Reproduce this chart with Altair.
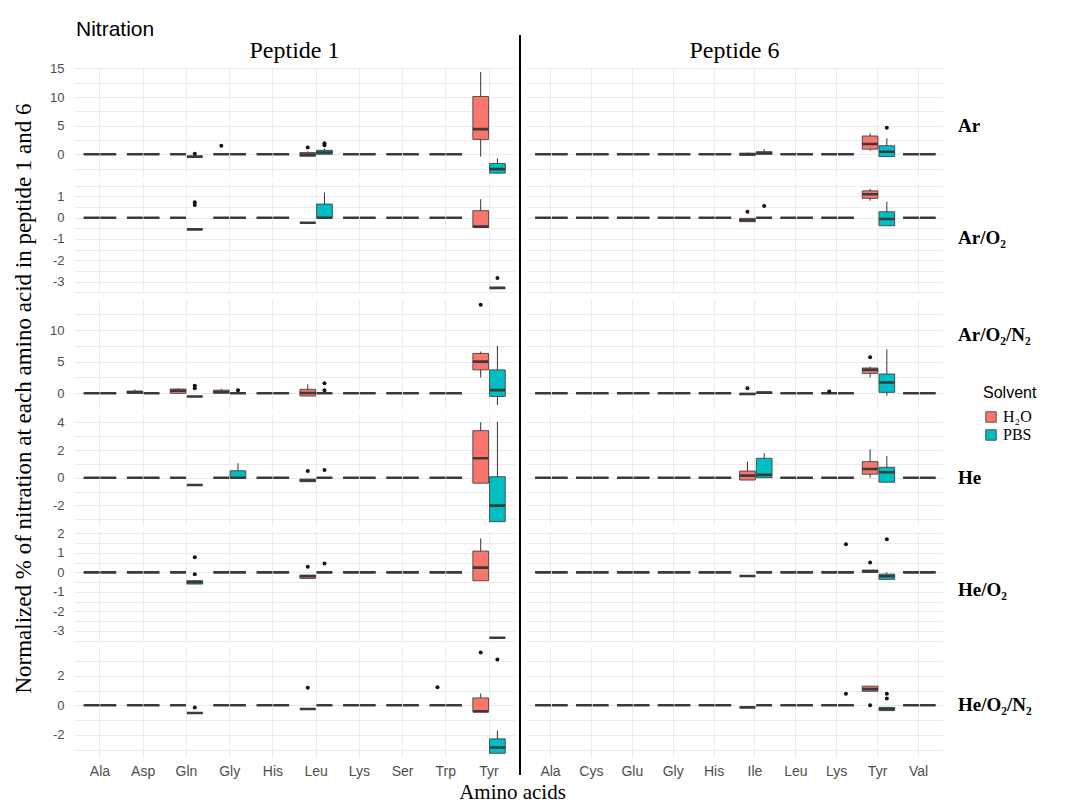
import altair as alt
import pandas as pd

# ---------------- data ----------------
gases = ["Ar", "Ar/O₂", "Ar/O₂/N₂", "He", "He/O₂", "He/O₂/N₂"]
peptides = ["Peptide 1", "Peptide 6"]
amino_p1 = ["Ala", "Asp", "Gln", "Gly", "His", "Leu", "Lys", "Ser", "Trp", "Tyr"]
amino_p6 = ["Ala", "Cys", "Glu", "Gly", "His", "Ile", "Leu", "Lys", "Tyr", "Val"]
solvents = ["H₂O", "PBS"]
solvent_colors = ["#F8766D", "#00BFC4"]

# boxes that are not a flat line at 0 (all others are 0)
box_gas = ["Ar"] * 9 + ["Ar/O₂"] * 8 + ["Ar/O₂/N₂"] * 11 + ["He"] * 9 + ["He/O₂"] * 7 + ["He/O₂/N₂"] * 7
box_pep = (["Peptide 1"] * 5 + ["Peptide 6"] * 4
           + ["Peptide 1"] * 5 + ["Peptide 6"] * 3
           + ["Peptide 1"] * 7 + ["Peptide 6"] * 4
           + ["Peptide 1"] * 5 + ["Peptide 6"] * 4
           + ["Peptide 1"] * 4 + ["Peptide 6"] * 3
           + ["Peptide 1"] * 4 + ["Peptide 6"] * 3)
box_amino = ["Gln", "Leu", "Leu", "Tyr", "Tyr", "Ile", "Ile", "Tyr", "Tyr",
             "Gln", "Leu", "Leu", "Tyr", "Tyr", "Ile", "Tyr", "Tyr",
             "Asp", "Gln", "Gln", "Gly", "Leu", "Tyr", "Tyr", "Ile", "Ile", "Tyr", "Tyr",
             "Gln", "Gly", "Leu", "Tyr", "Tyr", "Ile", "Ile", "Tyr", "Tyr",
             "Gln", "Leu", "Tyr", "Tyr", "Ile", "Tyr", "Tyr",
             "Gln", "Leu", "Tyr", "Tyr", "Ile", "Tyr", "Tyr"]
box_solv = ["PBS", "H₂O", "PBS", "H₂O", "PBS", "H₂O", "PBS", "H₂O", "PBS",
            "PBS", "H₂O", "PBS", "H₂O", "PBS", "H₂O", "H₂O", "PBS",
            "H₂O", "H₂O", "PBS", "H₂O", "H₂O", "H₂O", "PBS", "H₂O", "PBS", "H₂O", "PBS",
            "PBS", "PBS", "H₂O", "H₂O", "PBS", "H₂O", "PBS", "H₂O", "PBS",
            "PBS", "H₂O", "H₂O", "PBS", "H₂O", "H₂O", "PBS",
            "PBS", "H₂O", "H₂O", "PBS", "H₂O", "H₂O", "PBS"]
box_low = [-0.4, -0.4, 0.0, -0.4, -3.4, -0.2, -0.1, 0.6, -0.4,
           -0.55, -0.24, 0.0, -0.45, -3.3, -0.19, 0.8, -0.38,
           0.0, 0.0, -0.5, 0.0, -0.43, 2.5, -1.85, -0.2, 0.0, 2.5, -0.38,
           -0.53, 0.0, -0.29, -0.4, -3.18, -0.17, 0.0, 0.0, -0.33,
           -0.6, -0.31, -0.43, -3.35, -0.19, 0.0, -0.36,
           -0.52, -0.25, -0.41, -3.25, -0.14, 0.95, -0.36]
box_q1 = [-0.4, -0.35, 0.0, 2.6, -3.3, -0.2, 0.0, 0.9, -0.4,
          -0.55, -0.24, 0.0, -0.45, -3.3, -0.19, 0.91, -0.38,
          0.0, 0.0, -0.5, 0.0, -0.43, 3.7, -0.5, -0.2, 0.0, 3.15, 0.15,
          -0.53, 0.0, -0.29, -0.4, -3.18, -0.17, 0.0, 0.25, -0.33,
          -0.6, -0.31, -0.43, -3.35, -0.19, 0.0, -0.36,
          -0.52, -0.25, -0.41, -3.25, -0.14, 0.95, -0.36]
box_med = [-0.4, -0.05, 0.3, 4.4, -2.6, 0.0, 0.2, 1.8, 0.45,
           -0.55, -0.24, 0.0, -0.42, -3.3, -0.12, 1.1, -0.06,
           0.15, 0.4, -0.5, 0.2, 0.05, 5.0, 0.5, -0.1, 0.1, 3.7, 1.7,
           -0.53, 0.0, -0.2, 1.4, -2.02, 0.15, 0.2, 0.63, 0.39,
           -0.5, -0.2, 0.24, -3.35, -0.19, 0.05, -0.2,
           -0.52, -0.25, -0.41, -2.86, -0.14, 1.1, -0.25]
box_q3 = [-0.4, 0.3, 0.7, 10.1, -1.6, 0.2, 0.45, 3.2, 1.5,
          -0.55, -0.24, 0.64, 0.33, -3.3, -0.03, 1.26, 0.28,
          0.36, 0.68, -0.5, 0.5, 0.63, 6.3, 3.7, 0.0, 0.2, 4.0, 3.05,
          -0.53, 0.5, -0.1, 3.4, 0.07, 0.48, 1.4, 1.16, 0.75,
          -0.43, -0.14, 1.09, -3.35, -0.19, 0.12, -0.09,
          -0.52, -0.25, 0.5, -2.27, -0.14, 1.3, -0.14]
box_high = [-0.4, 0.5, 1.0, 14.4, -0.7, 0.3, 0.9, 3.7, 2.8,
            -0.55, -0.24, 1.18, 0.87, -3.3, -0.03, 1.35, 0.75,
            0.6, 0.8, -0.5, 0.7, 1.4, 6.6, 7.5, 0.0, 0.2, 4.2, 6.95,
            -0.53, 1.04, -0.1, 4.0, 4.05, 1.16, 1.76, 2.05, 1.57,
            -0.43, -0.14, 1.74, -3.35, -0.19, 0.12, 0.0,
            -0.52, -0.25, 0.8, -1.7, -0.14, 1.3, -0.14]

# outliers
out_gas = (["Ar"] * 6 + ["Ar/O₂"] * 5 + ["Ar/O₂/N₂"] * 9 + ["He"] * 2
           + ["He/O₂"] * 7 + ["He/O₂/N₂"] * 9)
out_pep = (["Peptide 1"] * 5 + ["Peptide 6"]
           + ["Peptide 1"] * 3 + ["Peptide 6"] * 2
           + ["Peptide 1"] * 6 + ["Peptide 6"] * 3
           + ["Peptide 1"] * 2
           + ["Peptide 1"] * 4 + ["Peptide 6"] * 3
           + ["Peptide 1"] * 5 + ["Peptide 6"] * 4)
out_amino = ["Gln", "Gly", "Leu", "Leu", "Leu", "Tyr",
             "Gln", "Gln", "Tyr", "Ile", "Ile",
             "Gln", "Gln", "Gly", "Leu", "Leu", "Tyr", "Ile", "Lys", "Tyr",
             "Leu", "Leu",
             "Gln", "Gln", "Leu", "Leu", "Lys", "Tyr", "Tyr",
             "Gln", "Leu", "Trp", "Tyr", "Tyr", "Lys", "Tyr", "Tyr", "Tyr"]
out_solv = ["PBS", "H₂O", "H₂O", "PBS", "PBS", "PBS",
            "PBS", "PBS", "PBS", "H₂O", "PBS",
            "PBS", "PBS", "PBS", "PBS", "PBS", "H₂O", "H₂O", "H₂O", "H₂O",
            "H₂O", "PBS",
            "PBS", "PBS", "H₂O", "PBS", "PBS", "H₂O", "PBS",
            "PBS", "H₂O", "H₂O", "H₂O", "PBS", "PBS", "H₂O", "PBS", "PBS"]
out_value = [0.1, 1.5, 1.2, 1.6, 1.95, 4.65,
             0.6, 0.72, -2.83, 0.28, 0.55,
             0.8, 1.2, 0.5, 0.5, 1.6, 14.0, 0.8, 0.3, 5.7,
             0.48, 0.55,
             0.77, -0.1, 0.29, 0.46, 1.44, 0.51, 1.7,
             -0.14, 1.19, 1.23, 3.57, 3.1, 0.78, 0.0, 0.78, 0.46]

# per-row y scales
y_domains = [[-3.97, 15.26], [-3.54, 1.63], [-2.48, 14.9], [-3.42, 4.53], [-3.52, 2.12], [-3.5, 3.95]]
y_steps = [5, 1, 5, 2, 1, 2]

# ---------------- build tables ----------------
boxes = pd.DataFrame(dict(gas=box_gas, peptide=box_pep, amino=box_amino, solvent=box_solv,
                          low=box_low, q1=box_q1, median=box_med, q3=box_q3, high=box_high))
outs = pd.DataFrame(dict(gas=out_gas, peptide=out_pep, amino=out_amino, solvent=out_solv,
                         value=out_value))
amino_lists = [amino_p1, amino_p6]

rows = []
for g in gases:
    for p, aminos in zip(peptides, amino_lists):
        for a in aminos:
            for s in solvents:
                m = boxes[(boxes.gas == g) & (boxes.peptide == p) & (boxes.amino == a) & (boxes.solvent == s)]
                if len(m):
                    rows.append(m.iloc[0].to_dict())
                else:
                    rows.append(dict(gas=g, peptide=p, amino=a, solvent=s,
                                     low=0.0, q1=0.0, median=0.0, q3=0.0, high=0.0))
full = pd.DataFrame(rows)

# ---------------- layout ----------------
widths = [441, 417]
panel_h = 110
label_dy = [59, 55, 36, 63, 59, 58]
serif = "Liberation Serif"
sans = "Liberation Sans"
dark = "#333333"


def grid_values(dom, step):
    half = step / 2
    k0 = int(dom[0] // half) - 1
    vals = []
    for k in range(k0, k0 + 200):
        v = round(k * half, 6)
        if dom[0] <= v <= dom[1]:
            vals.append(v)
        if v > dom[1]:
            break
    return vals


def text_layer(txt, **kw):
    enc = {k: v for k, v in kw.items() if k in ("x", "y")}
    props = {k: v for k, v in kw.items() if k not in ("x", "y")}
    return alt.Chart(pd.DataFrame({"t": [txt]})).mark_text(**props).encode(
        text="t:N", **enc)


panels = []
for r, g in enumerate(gases):
    for p, pep in enumerate(peptides):
        aminos = amino_lists[p]
        d = full[(full.gas == g) & (full.peptide == pep)]
        o = outs[(outs.gas == g) & (outs.peptide == pep)]
        bottom = r == len(gases) - 1
        left = p == 0
        step = y_steps[r]

        x_axis = alt.Axis(
            title="Amino acids" if (bottom and left) else None,
            labels=bottom, grid=True, bandPosition=0.5, labelPadding=7,
            labelFontSize=14, labelAngle=0,
            titleFont=serif, titleFontSize=21, titleFontWeight="normal",
            titleX=438, titleY=41, titleBaseline="alphabetic", titleAlign="center",
        )
        if left and r == 2:
            y_axis = alt.Axis(
                title="Normalized % of nitration at each amino acid in peptide 1 and 6",
                values=grid_values(y_domains[r], step),
                labelExpr=f"abs(datum.value % {step}) < 1e-6 ? '' + datum.value : ''",
                labels=True, labelPadding=10, grid=True,
                titleFont=serif, titleFontSize=23, titleFontWeight="normal",
                titleAngle=270, titleX=-51, titleY=99, titleAlign="center",
                titleBaseline="middle",
            )
        else:
            y_axis = alt.Axis(
                title=None, values=grid_values(y_domains[r], step),
                labelExpr=f"abs(datum.value % {step}) < 1e-6 ? '' + datum.value : ''",
                labels=left, labelPadding=10, grid=True,
            )
        x_scale = alt.Scale(domain=aminos, paddingInner=0.25, paddingOuter=0.225)
        y_scale = alt.Scale(domain=y_domains[r], nice=False, zero=False)
        xo = alt.XOffset("solvent:N", scale=alt.Scale(domain=solvents, paddingInner=0.06, paddingOuter=0))
        X = alt.X("amino:N", scale=x_scale, axis=x_axis, sort=aminos)

        base = alt.Chart(d)
        whisk = base.mark_rule(color=dark, strokeWidth=1).encode(
            x=X, xOffset=xo,
            y=alt.Y("low:Q", scale=y_scale, axis=y_axis), y2="high:Q")
        box = base.mark_bar(stroke=dark, strokeWidth=0.8).encode(
            x=X, xOffset=xo,
            y=alt.Y("q1:Q", scale=y_scale, axis=y_axis), y2="q3:Q",
            color=alt.Color("solvent:N", scale=alt.Scale(domain=solvents, range=solvent_colors),
                            title="Solvent"))
        med = base.mark_bar(stroke="#3a3a3a", strokeWidth=2.6, fill=dark).encode(
            x=X, xOffset=xo,
            y=alt.Y("median:Q", scale=y_scale, axis=y_axis), y2="median:Q")
        layers = [whisk, box, med]
        if len(o):
            pts = alt.Chart(o).mark_circle(size=16, color="#111111", opacity=1).encode(
                x=X, xOffset=xo, y=alt.Y("value:Q", scale=y_scale, axis=y_axis))
            layers.append(pts)
        if p == 1:
            layers.append(text_layer(
                g, align="left", baseline="middle", font=serif, fontSize=19,
                fontWeight="bold", color="black",
                x=alt.value(432), y=alt.value(label_dy[r])))
            y_top = -32 if r == 0 else -4
            y_bot = 128 if bottom else panel_h + 4
            sep = alt.Chart(pd.DataFrame({"t": [0]})).mark_rule(
                color="black", strokeWidth=2).encode(
                x=alt.value(-6), y=alt.value(y_top), y2=alt.value(y_bot))
            layers.append(sep)
        if r == 0:
            layers.append(text_layer(
                pep, align="center", baseline="alphabetic", font=serif, fontSize=24,
                color="black", x=alt.value(widths[p] / 2), y=alt.value(-9)))
        if p == 0 and r == 0:
            layers.append(text_layer(
                "Nitration", align="left", baseline="alphabetic", font=sans, fontSize=21,
                color="black", x=alt.value(2), y=alt.value(-31)))
        ch = alt.layer(*layers).properties(width=widths[p], height=panel_h)
        panels.append(ch)

chart = alt.concat(
    *panels, columns=2, spacing={"row": 6, "column": 11}, bounds="flush",
).properties(
    padding={"left": 11, "top": 19, "right": 5, "bottom": 0}
).configure_view(
    stroke=None
).configure_axis(
    labelFont=sans, labelColor="#4D4D4D", labelFontSize=13,
    gridColor="#EBEBEB", gridWidth=1, domain=False, ticks=False, tickSize=0,
).configure_legend(
    orient="none", legendX=909, legendY=318,
    titleFont=sans, titleFontSize=16, titleFontWeight="normal", titleColor="black",
    labelFont=serif, labelFontSize=16, labelColor="black",
    symbolType="square", symbolSize=110, symbolStrokeColor=dark, symbolStrokeWidth=0.8,
    rowPadding=2, titlePadding=8,
)

chart.save("out.html", embed_options={"renderer": "svg", "actions": False})
